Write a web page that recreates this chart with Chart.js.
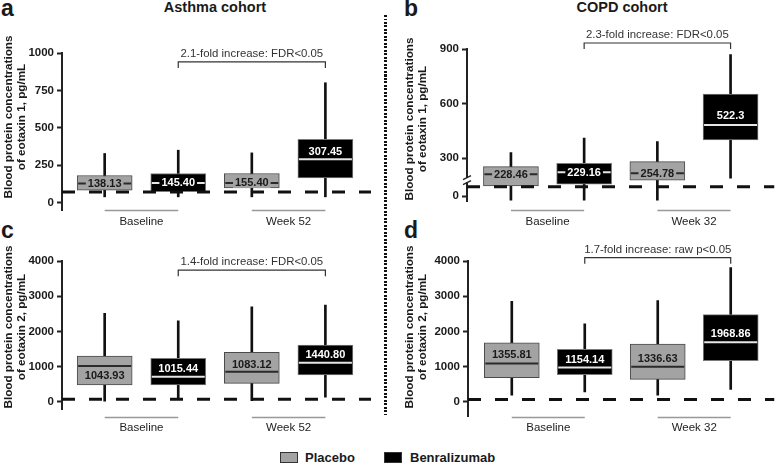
<!DOCTYPE html>
<html lang="en">
<head>
<meta charset="UTF-8">
<meta name="viewport" content="width=device-width, initial-scale=1.0">
<title>Eotaxin 1 and 2 by cohort</title>
<script src="https://cdn.jsdelivr.net/npm/chart.js"></script>
<style>
    body { margin: 0; background: #fff; font-family: "Liberation Sans", Arial, sans-serif; color: #222; }
    #page { position: relative; width: 777px; height: 465px; overflow: hidden; }
    #page canvas { position: absolute; }
    .label { position: absolute; white-space: nowrap; font-weight: bold; color: #1a1a1a; }
    .letter { font-size: 23px; line-height: 23px; }
    .cohort { font-size: 14.5px; line-height: 14.5px; transform: translateX(-50%); }
    .legend-text { font-size: 13px; line-height: 13px; }
    .divider { position: absolute; left: 384px; top: 15px; width: 3px; height: 400px;
        background: repeating-linear-gradient(to bottom, #111 0 2px, transparent 2px 3.5px); }
    .swatch { position: absolute; width: 18px; height: 11px; box-sizing: border-box; border: 1.5px solid #333; }
</style>
</head>
<body>
<div id="page">
    <div class="label letter" style="left:1px;top:-3px">a</div>
    <div class="label letter" style="left:404px;top:-3px">b</div>
    <div class="label letter" style="left:1px;top:219px">c</div>
    <div class="label letter" style="left:404px;top:219px">d</div>
    <div class="label cohort" style="left:215px;top:0px">Asthma cohort</div>
    <div class="label cohort" style="left:622px;top:0px">COPD cohort</div>
    <div class="divider"></div>

    <canvas id="panelA" width="384" height="232" style="left:0;top:0"></canvas>
    <canvas id="panelB" width="389" height="232" style="left:388px;top:0"></canvas>
    <canvas id="panelC" width="384" height="200" style="left:0;top:232px"></canvas>
    <canvas id="panelD" width="389" height="200" style="left:388px;top:232px"></canvas>

    <div class="swatch" style="left:280px;top:452px;background:#a3a3a3"></div>
    <div class="label legend-text" style="left:305px;top:451px">Placebo</div>
    <div class="swatch" style="left:384px;top:452px;background:#000"></div>
    <div class="label legend-text" style="left:410px;top:451px">Benralizumab</div>
</div>

<script>
// ---- data ----
const lloqValue = 70;
const asthmaGroups = ['Baseline', 'Week 52'];
const copdGroups = ['Baseline', 'Week 32'];
const eotaxin1Title = ['Blood protein concentrations', 'of eotaxin 1, pg/mL'];
const eotaxin2Title = ['Blood protein concentrations', 'of eotaxin 2, pg/mL'];

// a: asthma, eotaxin 1  (placebo, benra at baseline; placebo, benra at week 52)
const asthmaE1Min = [38, 38, 38, 38];
const asthmaE1Q1 = [82, 72, 98, 165];
const asthmaE1Median = [127, 131, 131, 290];
const asthmaE1Q3 = [181, 194, 194, 422];
const asthmaE1Max = [328, 350, 332, 801];
const asthmaE1Labels = ['138.13', '145.40', '155.40', '307.45'];
const asthmaE1Ticks = [0, 250, 500, 750, 1000];

// b: COPD, eotaxin 1
const copdE1Min = [-30, -30, -30, 190];
const copdE1Q1 = [77, 90, 120, 401];
const copdE1Median = [212, 223, 217, 483];
const copdE1Q3 = [254, 272, 281, 652];
const copdE1Max = [331, 410, 391, 869];
const copdE1Labels = ['228.46', '229.16', '254.78', '522.3'];
const copdE1Ticks = [0, 300, 600, 900];
const copdE1Break = [120, 180];

// c: asthma, eotaxin 2
const asthmaE2Min = [0, 114, 30, 125];
const asthmaE2Q1 = [474, 474, 522, 758];
const asthmaE2Median = [1014, 710, 852, 1108];
const asthmaE2Q3 = [1298, 1232, 1403, 1610];
const asthmaE2Max = [2511, 2300, 2698, 2746];
const asthmaE2Labels = ['1043.93', '1015.44', '1083.12', '1440.80'];

// d: COPD, eotaxin 2
const copdE2Min = [190, 285, 191, 354];
const copdE2Q1 = [690, 770, 640, 1171];
const copdE2Median = [1093, 980, 1000, 1697];
const copdE2Q3 = [1680, 1492, 1640, 2477];
const copdE2Max = [2858, 2213, 2877, 3811];
const copdE2Labels = ['1355.81', '1154.14', '1336.63', '1968.86'];
const eotaxin2Ticks = [0, 1000, 2000, 3000, 4000];

const comparisonNotes = ['2.1-fold increase: FDR<0.05', '2.3-fold increase: FDR<0.05',
                         '1.4-fold increase: FDR<0.05', '1.7-fold increase: raw p<0.05'];

// ---- drawing ----
const FONT = '"Liberation Sans", Arial, sans-serif';
const armFill = ['#a3a3a3', '#000000'];
const armBorder = ['#4a4a4a', '#7a7a7a'];

// y axis with a break: below the break the values are squeezed (Prism style)
const LOWER_RATIO = 0.734;
function toBrokenAxis(v) {
    if (v >= copdE1Break[1]) return v;
    if (v <= copdE1Break[0]) return copdE1Break[1] - (copdE1Break[0] - v) * LOWER_RATIO;
    return copdE1Break[1];
}
class BrokenLinearScale extends Chart.LinearScale {
    getPixelForValue(value) {
        return super.getPixelForValue(value === null ? null : toBrokenAxis(value));
    }
}
BrokenLinearScale.id = 'brokenLinear';
BrokenLinearScale.defaults = Chart.LinearScale.defaults;
Chart.register(BrokenLinearScale);

const boxDecor = {
    id: 'boxDecor',
    afterDatasetDraw(chart, args, o) {
        if (args.index !== 1) return;
        const ctx = chart.ctx, ys = chart.scales.y;
        ctx.save();
        args.meta.data.forEach((bar, i) => {
            const arm = i % 2;
            const my = ys.getPixelForValue(o.median[i]);
            const half = bar.width / 2;
            ctx.strokeStyle = arm ? '#e6e6e6' : '#2a2a2a';
            ctx.lineWidth = 2;
            ctx.beginPath();
            ctx.moveTo(bar.x - half + 1, my);
            ctx.lineTo(bar.x + half - 1, my);
            ctx.stroke();

            ctx.font = 'bold 11px ' + FONT;
            ctx.textAlign = 'center';
            ctx.textBaseline = 'middle';
            const ty = my + o.labelShift[i];
            if (o.labelShift[i] === 0) {
                const w = ctx.measureText(o.labels[i]).width + 4;
                ctx.fillStyle = armFill[arm];
                ctx.fillRect(bar.x - w / 2, ty - 5, w, 10);
            }
            ctx.fillStyle = arm ? '#ffffff' : '#1a1a1a';
            ctx.fillText(o.labels[i], bar.x, ty + 0.5);
        });
        ctx.restore();
    },
    afterDraw(chart, args, o) {
        const ctx = chart.ctx, xs = chart.scales.x, ys = chart.scales.y;
        ctx.save();

        if (typeof o.breakAt === 'number') {
            const ax = chart.chartArea.left, py = ys.getPixelForValue(o.breakAt);
            ctx.clearRect(ax - 2, py - 2, 4, 4);
            ctx.strokeStyle = '#222';
            ctx.lineWidth = 1.4;
            [-2.5, 2.5].forEach(d => {
                ctx.beginPath();
                ctx.moveTo(ax - 4, py + d + 2);
                ctx.lineTo(ax + 4, py + d - 2);
                ctx.stroke();
            });
        }

        // comparison bracket
        const x1 = xs.getPixelForValue(1), x3 = xs.getPixelForValue(3);
        const by = ys.getPixelForValue(o.bracketValue);
        ctx.strokeStyle = '#333';
        ctx.lineWidth = 1.2;
        ctx.beginPath();
        ctx.moveTo(x1, by + 6); ctx.lineTo(x1, by); ctx.lineTo(x3, by); ctx.lineTo(x3, by + 6);
        ctx.stroke();
        ctx.fillStyle = '#333';
        ctx.font = '11.4px ' + FONT;
        ctx.textAlign = 'center';
        ctx.textBaseline = 'middle';
        ctx.fillText(o.bracketText, (x1 + x3) / 2, by - 8);

        // time-point groups under the axis
        o.groups.forEach((name, g) => {
            const xa = xs.getPixelForValue(2 * g), xb = xs.getPixelForValue(2 * g + 1);
            ctx.strokeStyle = '#999';
            ctx.lineWidth = 1.5;
            ctx.beginPath();
            ctx.moveTo(xa, o.groupY); ctx.lineTo(xb, o.groupY);
            ctx.stroke();
            ctx.fillStyle = '#222';
            ctx.font = '11.5px ' + FONT;
            ctx.fillText(name, (xa + xb) / 2, o.groupLabelY);
        });

        // y axis title
        ctx.fillStyle = '#1a1a1a';
        ctx.font = 'bold 11.7px ' + FONT;
        o.titleLines.forEach((line, k) => {
            ctx.save();
            ctx.translate(o.titleX[k], o.titleY);
            ctx.rotate(-Math.PI / 2);
            ctx.fillText(line, 0, 0);
            ctx.restore();
        });
        ctx.restore();
    }
};

function makePanel(id, p) {
    const idx = p.median.map((_, i) => i);
    return new Chart(document.getElementById(id), {
        type: 'bar',
        data: {
            datasets: [
                {   // whiskers
                    data: idx.map(i => ({ x: i, y: [p.min[i], p.max[i]] })),
                    backgroundColor: '#111',
                    maxBarThickness: 2,
                    barPercentage: 1, categoryPercentage: 1,
                    grouped: false,
                    order: 3
                },
                {   // boxes
                    data: idx.map(i => ({ x: i, y: [p.q1[i], p.q3[i]] })),
                    backgroundColor: idx.map(i => armFill[i % 2]),
                    borderColor: idx.map(i => armBorder[i % 2]),
                    borderWidth: 1,
                    borderSkipped: false,
                    maxBarThickness: 55,
                    barPercentage: 1, categoryPercentage: 1,
                    grouped: false,
                    order: 2
                },
                {   // detection limit
                    type: 'line',
                    data: [{ x: p.xRange[0], y: lloqValue }, { x: p.xRange[1], y: lloqValue }],
                    borderColor: '#111',
                    borderWidth: 3,
                    borderDash: [13, 14],
                    pointRadius: 0,
                    order: 1
                }
            ]
        },
        options: {
            responsive: false,
            animation: false,
            events: [],
            layout: { padding: p.padding },
            scales: {
                x: {
                    type: 'linear', min: p.xRange[0], max: p.xRange[1], display: false,
                    offset: false,
                    afterBuildTicks: s => { s.ticks = idx.map(v => ({ value: v })); }
                },
                y: {
                    type: p.yType,
                    min: p.yMin,
                    max: p.yMax,
                    afterBuildTicks: s => { s.ticks = p.ticks.map(v => ({ value: v })); },
                    afterFit: s => { s.width = p.axisWidth; },
                    grid: { drawOnChartArea: false, drawTicks: true, tickLength: 5, tickWidth: 2, tickColor: '#222' },
                    border: { display: true, color: '#222', width: 2 },
                    ticks: {
                        color: '#1a1a1a',
                        padding: 3,
                        font: { family: FONT, size: 11.5, weight: 'bold' },
                        callback: v => String(v)
                    }
                }
            },
            plugins: {
                legend: { display: false },
                tooltip: { enabled: false },
                boxDecor: {
                    median: p.median,
                    labels: p.labels,
                    labelShift: p.labelShift,
                    bracketValue: p.bracketValue,
                    bracketText: p.bracketText,
                    groups: p.groups,
                    groupY: p.groupY,
                    groupLabelY: p.groupLabelY,
                    titleLines: p.title,
                    titleX: p.titleX,
                    titleY: p.titleY,
                    breakAt: p.breakAt
                }
            }
        },
        plugins: [boxDecor]
    });
}

makePanel('panelA', {
    min: asthmaE1Min, q1: asthmaE1Q1, median: asthmaE1Median, q3: asthmaE1Q3, max: asthmaE1Max,
    labels: asthmaE1Labels, labelShift: [0, 0, 0, -7.5], ticks: asthmaE1Ticks,
    yType: 'linear', yMin: -50, yMax: 1000,
    xRange: [-0.58, 3.62], axisWidth: 62, padding: { left: 0, top: 53, right: 13, bottom: 22 },
    bracketValue: 940, bracketText: comparisonNotes[0],
    groups: asthmaGroups, groupY: 210.5, groupLabelY: 221.5,
    title: eotaxin1Title, titleX: [8.5, 21.5], titleY: 117
});

makePanel('panelB', {
    min: copdE1Min, q1: copdE1Q1, median: copdE1Median, q3: copdE1Q3, max: copdE1Max,
    labels: copdE1Labels, labelShift: [0, 0, 0, -9], ticks: copdE1Ticks,
    yType: 'brokenLinear', yMin: toBrokenAxis(-42), yMax: 900,
    xRange: [-0.6, 3.6], axisWidth: 79, padding: { left: 0, top: 49, right: 2.5, bottom: 30.3 },
    bracketValue: 933, bracketText: comparisonNotes[1],
    groups: copdGroups, groupY: 210.5, groupLabelY: 221.5,
    title: eotaxin1Title, titleX: [22, 35], titleY: 119,
    breakAt: copdE1Break[1]
});

makePanel('panelC', {
    min: asthmaE2Min, q1: asthmaE2Q1, median: asthmaE2Median, q3: asthmaE2Q3, max: asthmaE2Max,
    labels: asthmaE2Labels, labelShift: [9, -8, -7, -8], ticks: eotaxin2Ticks,
    yType: 'linear', yMin: -220, yMax: 4000,
    xRange: [-0.58, 3.62], axisWidth: 62, padding: { left: 0, top: 29, right: 13, bottom: 22.6 },
    bracketValue: 3740, bracketText: comparisonNotes[2],
    groups: asthmaGroups, groupY: 185.5, groupLabelY: 196,
    title: eotaxin2Title, titleX: [8.5, 21.5], titleY: 95
});

makePanel('panelD', {
    min: copdE2Min, q1: copdE2Q1, median: copdE2Median, q3: copdE2Q3, max: copdE2Max,
    labels: copdE2Labels, labelShift: [-8.5, -8, -8, -8.5], ticks: eotaxin2Ticks,
    yType: 'linear', yMin: -400, yMax: 4000,
    xRange: [-0.6, 3.6], axisWidth: 80, padding: { left: 0, top: 29, right: 2.5, bottom: 16 },
    bracketValue: 4094, bracketText: comparisonNotes[3],
    groups: copdGroups, groupY: 185.5, groupLabelY: 196,
    title: eotaxin2Title, titleX: [22, 35], titleY: 95
});
</script>
</body>
</html>
